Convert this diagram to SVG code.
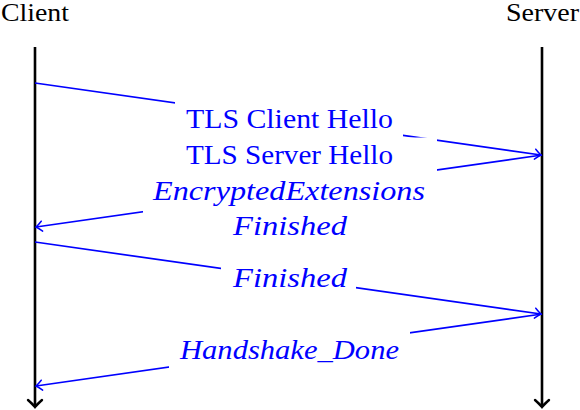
<svg xmlns="http://www.w3.org/2000/svg" width="580" height="410" viewBox="0 0 580 410">
<defs>
<style>
.life{stroke:#000;stroke-width:2.6;fill:none}
.msg{stroke:#0000ff;stroke-width:1.7;fill:none}
.bg{fill:#fff;stroke:none}
.t{font-size:27px;fill:#0000ff;text-anchor:middle}
.i{font-style:italic}
.hd{font-size:25px;fill:#000}
</style>
<marker id="ab" markerUnits="userSpaceOnUse" markerWidth="14" markerHeight="14" viewBox="-8 -7 10 14" refX="0" refY="0" orient="auto" overflow="visible">
<path d="M-6,-5 Q-2,-1.2 0,0 Q-2,1.2 -6,5" fill="none" stroke="#0000ff" stroke-width="1.5" stroke-linecap="round"/>
</marker>
<marker id="ak" markerUnits="userSpaceOnUse" markerWidth="16" markerHeight="16" viewBox="-10 -8 12 16" refX="0" refY="0" orient="auto" overflow="visible">
<path d="M-7,-7 Q-2,-1.5 0,0 Q-2,1.5 -7,7" fill="none" stroke="#000" stroke-width="2.4" stroke-linecap="round"/>
</marker>
</defs>
<g font-family="Liberation Serif, DejaVu Serif, serif">
<g id="client">
<text class="hd" x="1" y="21" textLength="68" lengthAdjust="spacingAndGlyphs">Client</text>
<line class="life" x1="35" y1="47" x2="35" y2="407" marker-end="url(#ak)"/>
</g>
<g id="server">
<text class="hd" x="506" y="21" textLength="73" lengthAdjust="spacingAndGlyphs">Server</text>
<line class="life" x1="542" y1="47" x2="542" y2="407" marker-end="url(#ak)"/>
</g>
<g id="connectors">
<line class="msg" x1="35" y1="83" x2="541" y2="155" marker-end="url(#ab)"/>
<line class="msg" x1="542" y1="155" x2="36" y2="227" marker-end="url(#ab)"/>
<line class="msg" x1="35" y1="242" x2="541" y2="314" marker-end="url(#ab)"/>
<line class="msg" x1="542" y1="314" x2="36" y2="386" marker-end="url(#ab)"/>
</g>
<g id="label-client-hello">
<rect class="bg" x="175" y="101" width="228" height="36"/>
<text class="t" x="289.5" y="128" textLength="207" lengthAdjust="spacingAndGlyphs">TLS Client Hello</text>
</g>
<g id="label-server-hello">
<rect class="bg" x="143" y="137.5" width="294" height="106"/>
<text class="t" x="289.5" y="164" textLength="207" lengthAdjust="spacingAndGlyphs">TLS Server Hello</text>
<text class="t i" x="289" y="200" textLength="272" lengthAdjust="spacingAndGlyphs">EncryptedExtensions</text>
<text class="t i" x="290" y="235" textLength="114" lengthAdjust="spacingAndGlyphs">Finished</text>
</g>
<g id="label-finished">
<rect class="bg" x="221" y="262" width="135" height="34"/>
<text class="t i" x="290" y="287" textLength="114" lengthAdjust="spacingAndGlyphs">Finished</text>
</g>
<g id="label-handshake-done">
<rect class="bg" x="169" y="330" width="241" height="42"/>
<text class="t i" x="289.5" y="359" textLength="219" lengthAdjust="spacingAndGlyphs">Handshake_Done</text>
</g>
</g>
</svg>
